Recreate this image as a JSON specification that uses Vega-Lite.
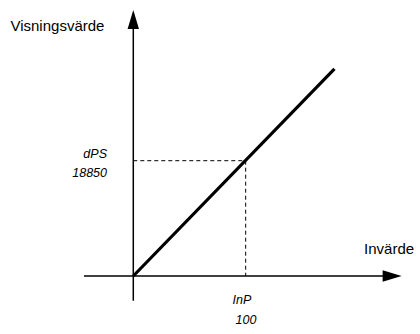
{
  "$schema": "https://vega.github.io/schema/vega-lite/v6.json",
  "width": 420,
  "height": 334,
  "autosize": {"type": "fit", "contains": "padding"},
  "padding": 0,
  "background": "white",
  "config": {"view": {"stroke": null}},
  "datasets": {
    "axes": [
      {"x": 0, "y": -4038, "x2": 0, "y2": 41851},
      {"x": -43.9, "y": 0, "x2": 228.4, "y2": 0}
    ],
    "guides": [
      {"x": 0, "y": 18850, "x2": 100, "y2": 18850},
      {"x": 100, "y": 18850, "x2": 100, "y2": 0}
    ],
    "line": [
      {"x": 0, "y": 0},
      {"x": 179, "y": 33843}
    ],
    "arrowUp": [{"x": 0, "y": 41933}],
    "arrowRight": [{"x": 230.3, "y": 0}],
    "titles": [
      {"x": -109.3, "y": 40052, "label": "Visningsvärde"},
      {"x": 205.3, "y": 3597, "label": "Invärde"}
    ],
    "leftValues": [
      {"x": -23.4, "y": 19372, "label": "dPS"},
      {"x": -23.4, "y": 16185, "label": "18850"}
    ],
    "bottomValues": [
      {"x": 96.7, "y": -4577, "label": "InP"},
      {"x": 100.3, "y": -7847, "label": "100"}
    ]
  },
  "encoding": {
    "x": {"field": "x", "type": "quantitative", "axis": null,
          "scale": {"domain": [-118.6, 255.1], "nice": false, "zero": false}},
    "y": {"field": "y", "type": "quantitative", "axis": null,
          "scale": {"domain": [-9482, 45121], "nice": false, "zero": false}}
  },
  "layer": [
    {
      "data": {"name": "axes"},
      "mark": {"type": "rule", "color": "black", "strokeWidth": 1.5},
      "encoding": {"x2": {"field": "x2"}, "y2": {"field": "y2"}}
    },
    {
      "data": {"name": "guides"},
      "mark": {"type": "rule", "color": "black", "strokeWidth": 1, "strokeDash": [4, 3]},
      "encoding": {"x2": {"field": "x2"}, "y2": {"field": "y2"}}
    },
    {
      "data": {"name": "line"},
      "mark": {"type": "line", "color": "black", "strokeWidth": 3.2, "strokeCap": "butt"},
      "encoding": {}
    },
    {
      "data": {"name": "arrowUp"},
      "mark": {"type": "point", "filled": true, "color": "black", "opacity": 1, "strokeWidth": 0,
               "shape": "M0,-1L0.6,1L-0.6,1Z", "size": 361},
      "encoding": {}
    },
    {
      "data": {"name": "arrowRight"},
      "mark": {"type": "point", "filled": true, "color": "black", "opacity": 1, "strokeWidth": 0,
               "shape": "M1,0L-1,0.6L-1,-0.6Z", "size": 361},
      "encoding": {}
    },
    {
      "data": {"name": "titles"},
      "mark": {"type": "text", "align": "left", "baseline": "alphabetic", "font": "Liberation Sans",
               "fontSize": 15, "color": "black"},
      "encoding": {"text": {"field": "label"}}
    },
    {
      "data": {"name": "leftValues"},
      "mark": {"type": "text", "align": "right", "baseline": "alphabetic", "font": "Liberation Sans",
               "fontSize": 12.5, "fontStyle": "italic", "fontWeight": 300, "color": "black"},
      "encoding": {"text": {"field": "label"}}
    },
    {
      "data": {"name": "bottomValues"},
      "mark": {"type": "text", "align": "center", "baseline": "alphabetic", "font": "Liberation Sans",
               "fontSize": 12.5, "fontStyle": "italic", "fontWeight": 300, "color": "black"},
      "encoding": {"text": {"field": "label"}}
    }
  ]
}
